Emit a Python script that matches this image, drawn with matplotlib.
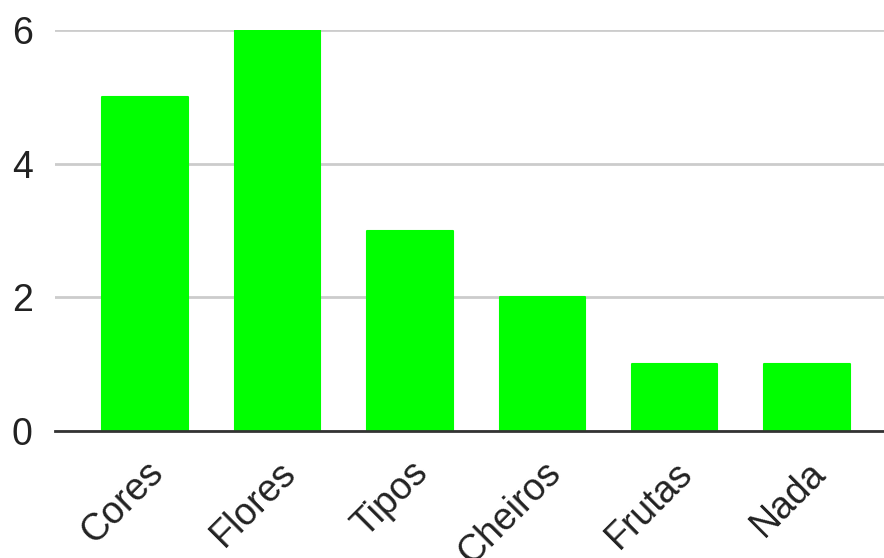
import matplotlib
matplotlib.use("Agg")
import matplotlib.pyplot as plt

categories = ["Cores", "Flores", "Tipos", "Cheiros", "Frutas", "Nada"]
values = [5, 6, 3, 2, 1, 1]
y_ticks = [0, 2, 4, 6]

plt.rcParams["font.family"] = ["Liberation Sans", "DejaVu Sans"]

W, H = 884, 558
fig = plt.figure(figsize=(W / 100, H / 100), dpi=100)
left, right = 55 / W, 1.0
bottom, top = (H - 431) / H, (H - 30) / H
ax = fig.add_axes([left, bottom, right - left, top - bottom])

green = "#00ff00"
x = list(range(len(categories)))
ax.bar(x, values, width=0.645, color=green, edgecolor=green,
       linewidth=1.5, joinstyle="round", zorder=3)

ax.set_xlim(-0.68, 5.58)
ax.set_ylim(0, 6)
ax.set_yticks(y_ticks)
ax.set_yticklabels([str(t) for t in y_ticks])
ax.yaxis.grid(True, color="#cccccc", linewidth=2, zorder=0)
ax.set_axisbelow(True)

for side in ["top", "right", "left"]:
    ax.spines[side].set_visible(False)
ax.spines["bottom"].set_color("#333333")
ax.spines["bottom"].set_linewidth(2)
ax.spines["bottom"].set_zorder(4)

ax.tick_params(axis="y", length=0, pad=16, labelsize=27, labelcolor="#222222")
ax.tick_params(axis="x", length=0, pad=17, labelsize=27, labelcolor="#222222")
ax.set_xticks(x)
ax.set_xticklabels(categories, rotation=45, ha="right", rotation_mode="anchor")

fig.savefig("out.png", dpi=100)
